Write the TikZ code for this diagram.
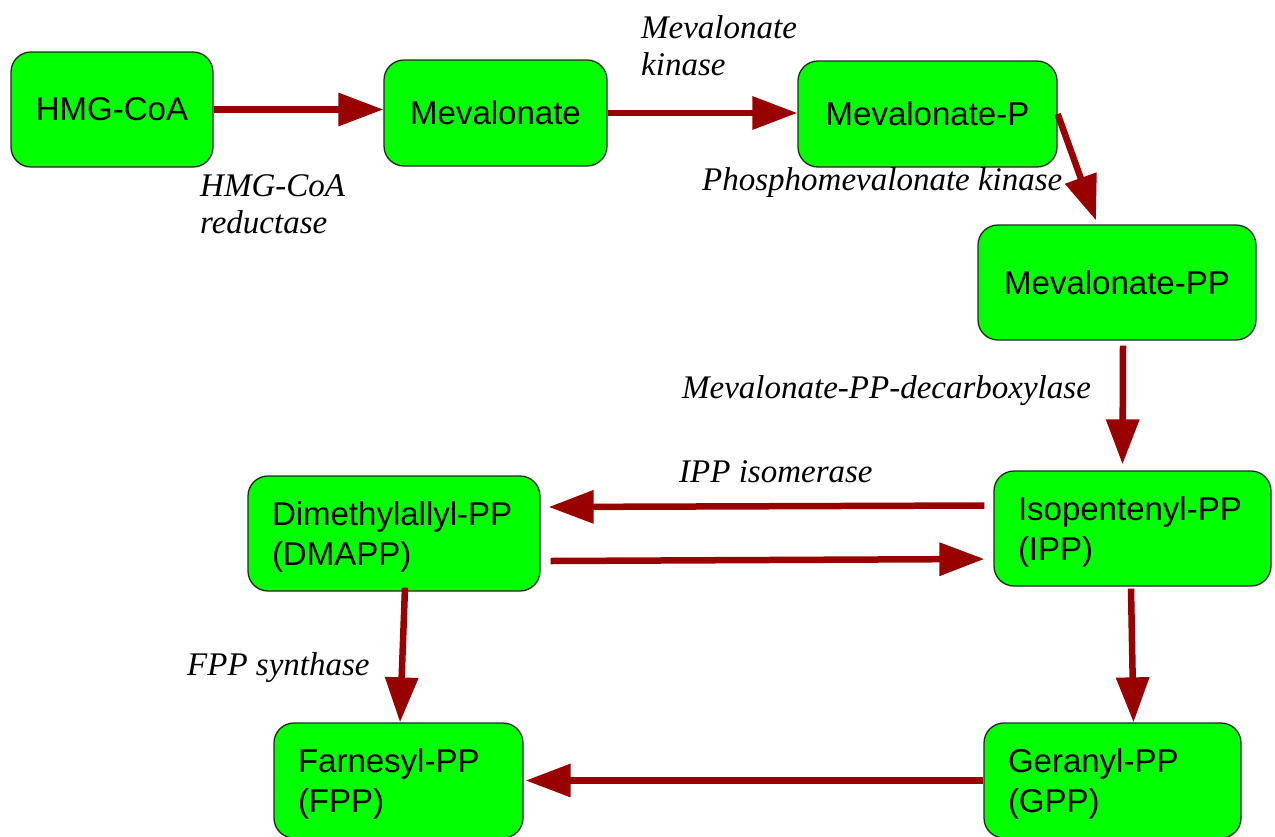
\documentclass[tikz,border=0pt]{standalone}
\usepackage{fontspec}
\setmainfont{Liberation Serif}
\setsansfont{Liberation Sans}
\usetikzlibrary{arrows.meta,calc}
\definecolor{boxgreen}{RGB}{0,255,0}
\definecolor{arrowred}{RGB}{153,0,0}
\begin{document}
\begin{tikzpicture}[x=1pt,y=-1pt,
  metab/.style={draw=black!85,line width=1.3pt,fill=boxgreen,rounded corners=20pt,
    minimum height=115pt,inner xsep=24pt,inner ysep=0pt,
    font=\sffamily\fontsize{33}{40}\selectfont},
  metabtwo/.style={metab,align=left,text width=#1,
    execute at begin node={\rule{0pt}{31pt}}},
  enzyme/.style={font=\rmfamily\itshape\fontsize{33}{37}\selectfont,
    inner sep=0pt,anchor=base west,align=left},
  react/.style={draw=arrowred,line width=6.5pt,-{Triangle[length=45pt,width=32pt]}}]

\useasboundingbox (0,0) rectangle (1275,836);

% metabolites
\node[metab,minimum width=202pt] (hmg) at (112,109.5) {HMG-CoA};
\node[metab,minimum width=223pt,minimum height=106pt] (mev) at (495.5,113) {Mevalonate};
\node[metab,minimum width=259pt,minimum height=106pt] (mevp) at (927.5,114) {Mevalonate-P};
\node[metab,minimum width=278pt] (mevpp) at (1117,282.5) {Mevalonate-PP};
\node[metabtwo=229pt] (ipp) at (1132.5,528.5) {Isopentenyl-PP\\(IPP)};
\node[metabtwo=244pt] (dmapp) at (394,533.5) {Dimethylallyl-PP\\(DMAPP)};
\node[metabtwo=201pt] (fpp) at (398.5,780.5) {Farnesyl-PP\\(FPP)};
\node[metabtwo=209pt] (gpp) at (1112.5,780.5) {Geranyl-PP\\(GPP)};

% reactions
\draw[react] (hmg.east) -- (hmg.east -| mev.west);
\draw[react] (mev.east) -- (mev.east -| mevp.west);
\draw[react] (mevp.east) -- ($(mevpp.north)+(-21,-4)$);
\draw[react] ($(mevpp.south)+(6,5)$) -- ($(ipp.north)+(-10,-6)$);
\draw[react] ($(ipp.west)+(-9,-23)$) -- ($(dmapp.east)+(8,-26.5)$);
\draw[react] ($(dmapp.east)+(10,27.5)$) -- ($(ipp.west)+(-9,30.5)$);
\draw[react] ($(dmapp.south)+(11,-4)$) -- ($(fpp.north)+(1.5,0)$);
\draw[react] ($(ipp.south)+(-1.5,2)$) -- ($(gpp.north)+(21,0)$);
\draw[react] (gpp.west) -- ($(fpp.east)+(2,0)$);

% enzymes (base anchor sits on the last line)
\node[enzyme] (e1) at (200,233) {HMG-CoA\\reductase};
\node[enzyme] (e2) at (641,75) {Mevalonate\\kinase};
\node[enzyme] (e3) at (702,190) {Phosphomevalonate kinase};
\node[enzyme] (e4) at (682,398) {Mevalonate-PP-decarboxylase};
\node[enzyme] (e5) at (679,482) {IPP isomerase};
\node[enzyme] (e6) at (187,675) {FPP synthase};
\end{tikzpicture}
\end{document}
